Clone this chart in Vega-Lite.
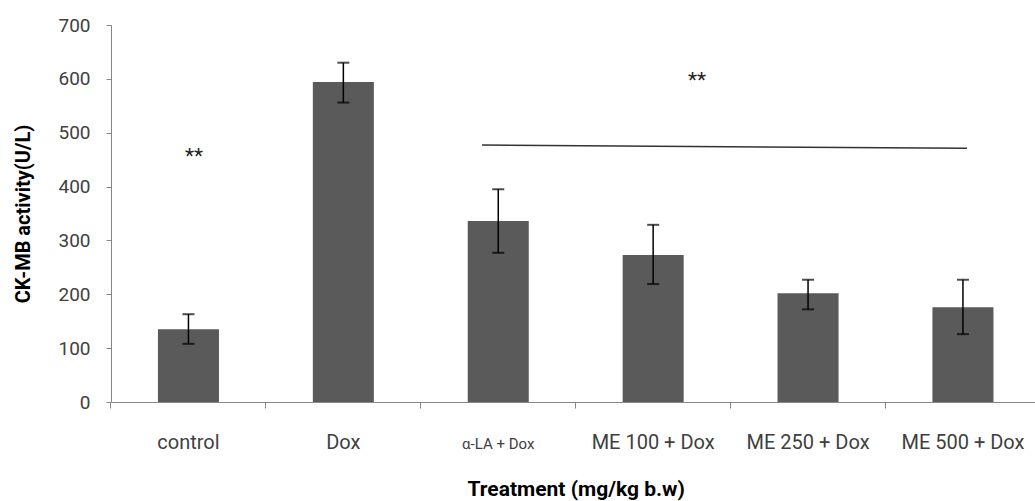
{
  "$schema": "https://vega.github.io/schema/vega-lite/v6.json",
  "width": 924,
  "height": 377,
  "autosize": {"type": "none"},
  "padding": {"left": 111, "top": 25, "right": 0, "bottom": 99},
  "background": "white",
  "config": {
    "view": {"stroke": null},
    "font": "Roboto",
    "axisY": {
      "grid": false,
      "domainColor": "#868686",
      "tickColor": "#868686",
      "tickSize": 5,
      "labelFontSize": 19,
      "labelColor": "#404040",
      "labelPadding": 16,
      "titleFontSize": 20,
      "titleFontWeight": "bold",
      "titleColor": "#000000",
      "titleX": -82,
      "titleBaseline": "alphabetic",
      "titleAngle": -90
    }
  },
  "datasets": {
    "bars": [
      {"treatment": "control", "mean": 135, "lo": 108, "hi": 163},
      {"treatment": "Dox", "mean": 594, "lo": 556, "hi": 630},
      {"treatment": "α-LA + Dox", "mean": 336, "lo": 277, "hi": 395},
      {"treatment": "ME 100 + Dox", "mean": 273, "lo": 219, "hi": 329},
      {"treatment": "ME 250 + Dox", "mean": 202, "lo": 172, "hi": 227},
      {"treatment": "ME 500 + Dox", "mean": 176, "lo": 126, "hi": 227}
    ],
    "sigline": [
      {"pos": 2.395, "val": 477},
      {"pos": 5.526, "val": 471}
    ],
    "stars": [
      {"pos": 0.536, "val": 455, "label": "**"},
      {"pos": 3.783, "val": 596, "label": "**"}
    ]
  },
  "layer": [
    {
      "data": {"name": "bars"},
      "mark": {"type": "bar", "color": "#5a5a5a", "width": {"band": 0.394}},
      "encoding": {
        "x": {
          "field": "treatment", "type": "nominal", "sort": null,
          "scale": {"range": [0, 929.4], "paddingInner": 0, "paddingOuter": 0},
          "axis": {
            "orient": "bottom",
            "title": "Treatment (mg/kg b.w)",
            "labelAngle": 0,
            "ticks": false,
            "tickSize": 0,
            "labelBaseline": "alphabetic",
            "labelPadding": 46,
            "labelFontSize": {"condition": {"test": "datum.value === 'α-LA + Dox'", "value": 15}, "value": 20},
            "labelColor": "#404040",
            "domainColor": "#868686",
            "grid": false,
            "titleFontSize": 21,
            "titleFontWeight": "bold",
            "titleColor": "#000000",
            "titleY": 93,
            "titleBaseline": "alphabetic"
          }
        },
        "y": {
          "field": "mean", "type": "quantitative",
          "scale": {"domain": [0, 700]},
          "title": "CK-MB activity(U/L)",
          "axis": {"values": [0, 100, 200, 300, 400, 500, 600, 700]}
        }
      }
    },
    {
      "data": {"name": "bars"},
      "mark": {"type": "rule", "color": "#000000", "strokeWidth": 1.5},
      "encoding": {
        "x": {
          "field": "treatment", "type": "nominal", "sort": null,
          "scale": {"range": [0, 929.4], "paddingInner": 0, "paddingOuter": 0},
          "axis": {
            "orient": "bottom",
            "title": null,
            "labels": false,
            "domain": false,
            "ticks": true,
            "tickSize": 6,
            "tickColor": "#868686",
            "bandPosition": 0,
            "grid": false
          }
        },
        "y": {"field": "lo", "type": "quantitative", "title": "CK-MB activity(U/L)"},
        "y2": {"field": "hi"}
      }
    },
    {
      "data": {"name": "bars"},
      "mark": {"type": "tick", "color": "#000000", "thickness": 2, "size": 12, "orient": "horizontal"},
      "encoding": {
        "x": {
          "field": "treatment", "type": "nominal", "sort": null,
          "scale": {"range": [0, 929.4], "paddingInner": 0, "paddingOuter": 0},
          "axis": null
        },
        "y": {"field": "lo", "type": "quantitative", "title": "CK-MB activity(U/L)"}
      }
    },
    {
      "data": {"name": "bars"},
      "mark": {"type": "tick", "color": "#000000", "thickness": 2, "size": 12, "orient": "horizontal"},
      "encoding": {
        "x": {
          "field": "treatment", "type": "nominal", "sort": null,
          "scale": {"range": [0, 929.4], "paddingInner": 0, "paddingOuter": 0},
          "axis": null
        },
        "y": {"field": "hi", "type": "quantitative", "title": "CK-MB activity(U/L)"}
      }
    },
    {
      "data": {"name": "sigline"},
      "mark": {"type": "line", "color": "#333333", "strokeWidth": 1.5},
      "encoding": {
        "x": {"field": "pos", "type": "quantitative", "scale": {"domain": [0, 6], "range": [0, 929.4], "nice": false, "zero": false}, "axis": null},
        "y": {"field": "val", "type": "quantitative", "title": "CK-MB activity(U/L)"}
      }
    },
    {
      "data": {"name": "stars"},
      "mark": {"type": "text", "fontSize": 21, "color": "#222222", "baseline": "middle", "align": "center"},
      "encoding": {
        "x": {"field": "pos", "type": "quantitative", "scale": {"domain": [0, 6], "range": [0, 929.4], "nice": false, "zero": false}, "axis": null},
        "y": {"field": "val", "type": "quantitative", "title": "CK-MB activity(U/L)"},
        "text": {"field": "label"}
      }
    }
  ],
  "resolve": {"scale": {"x": "independent"}}
}
